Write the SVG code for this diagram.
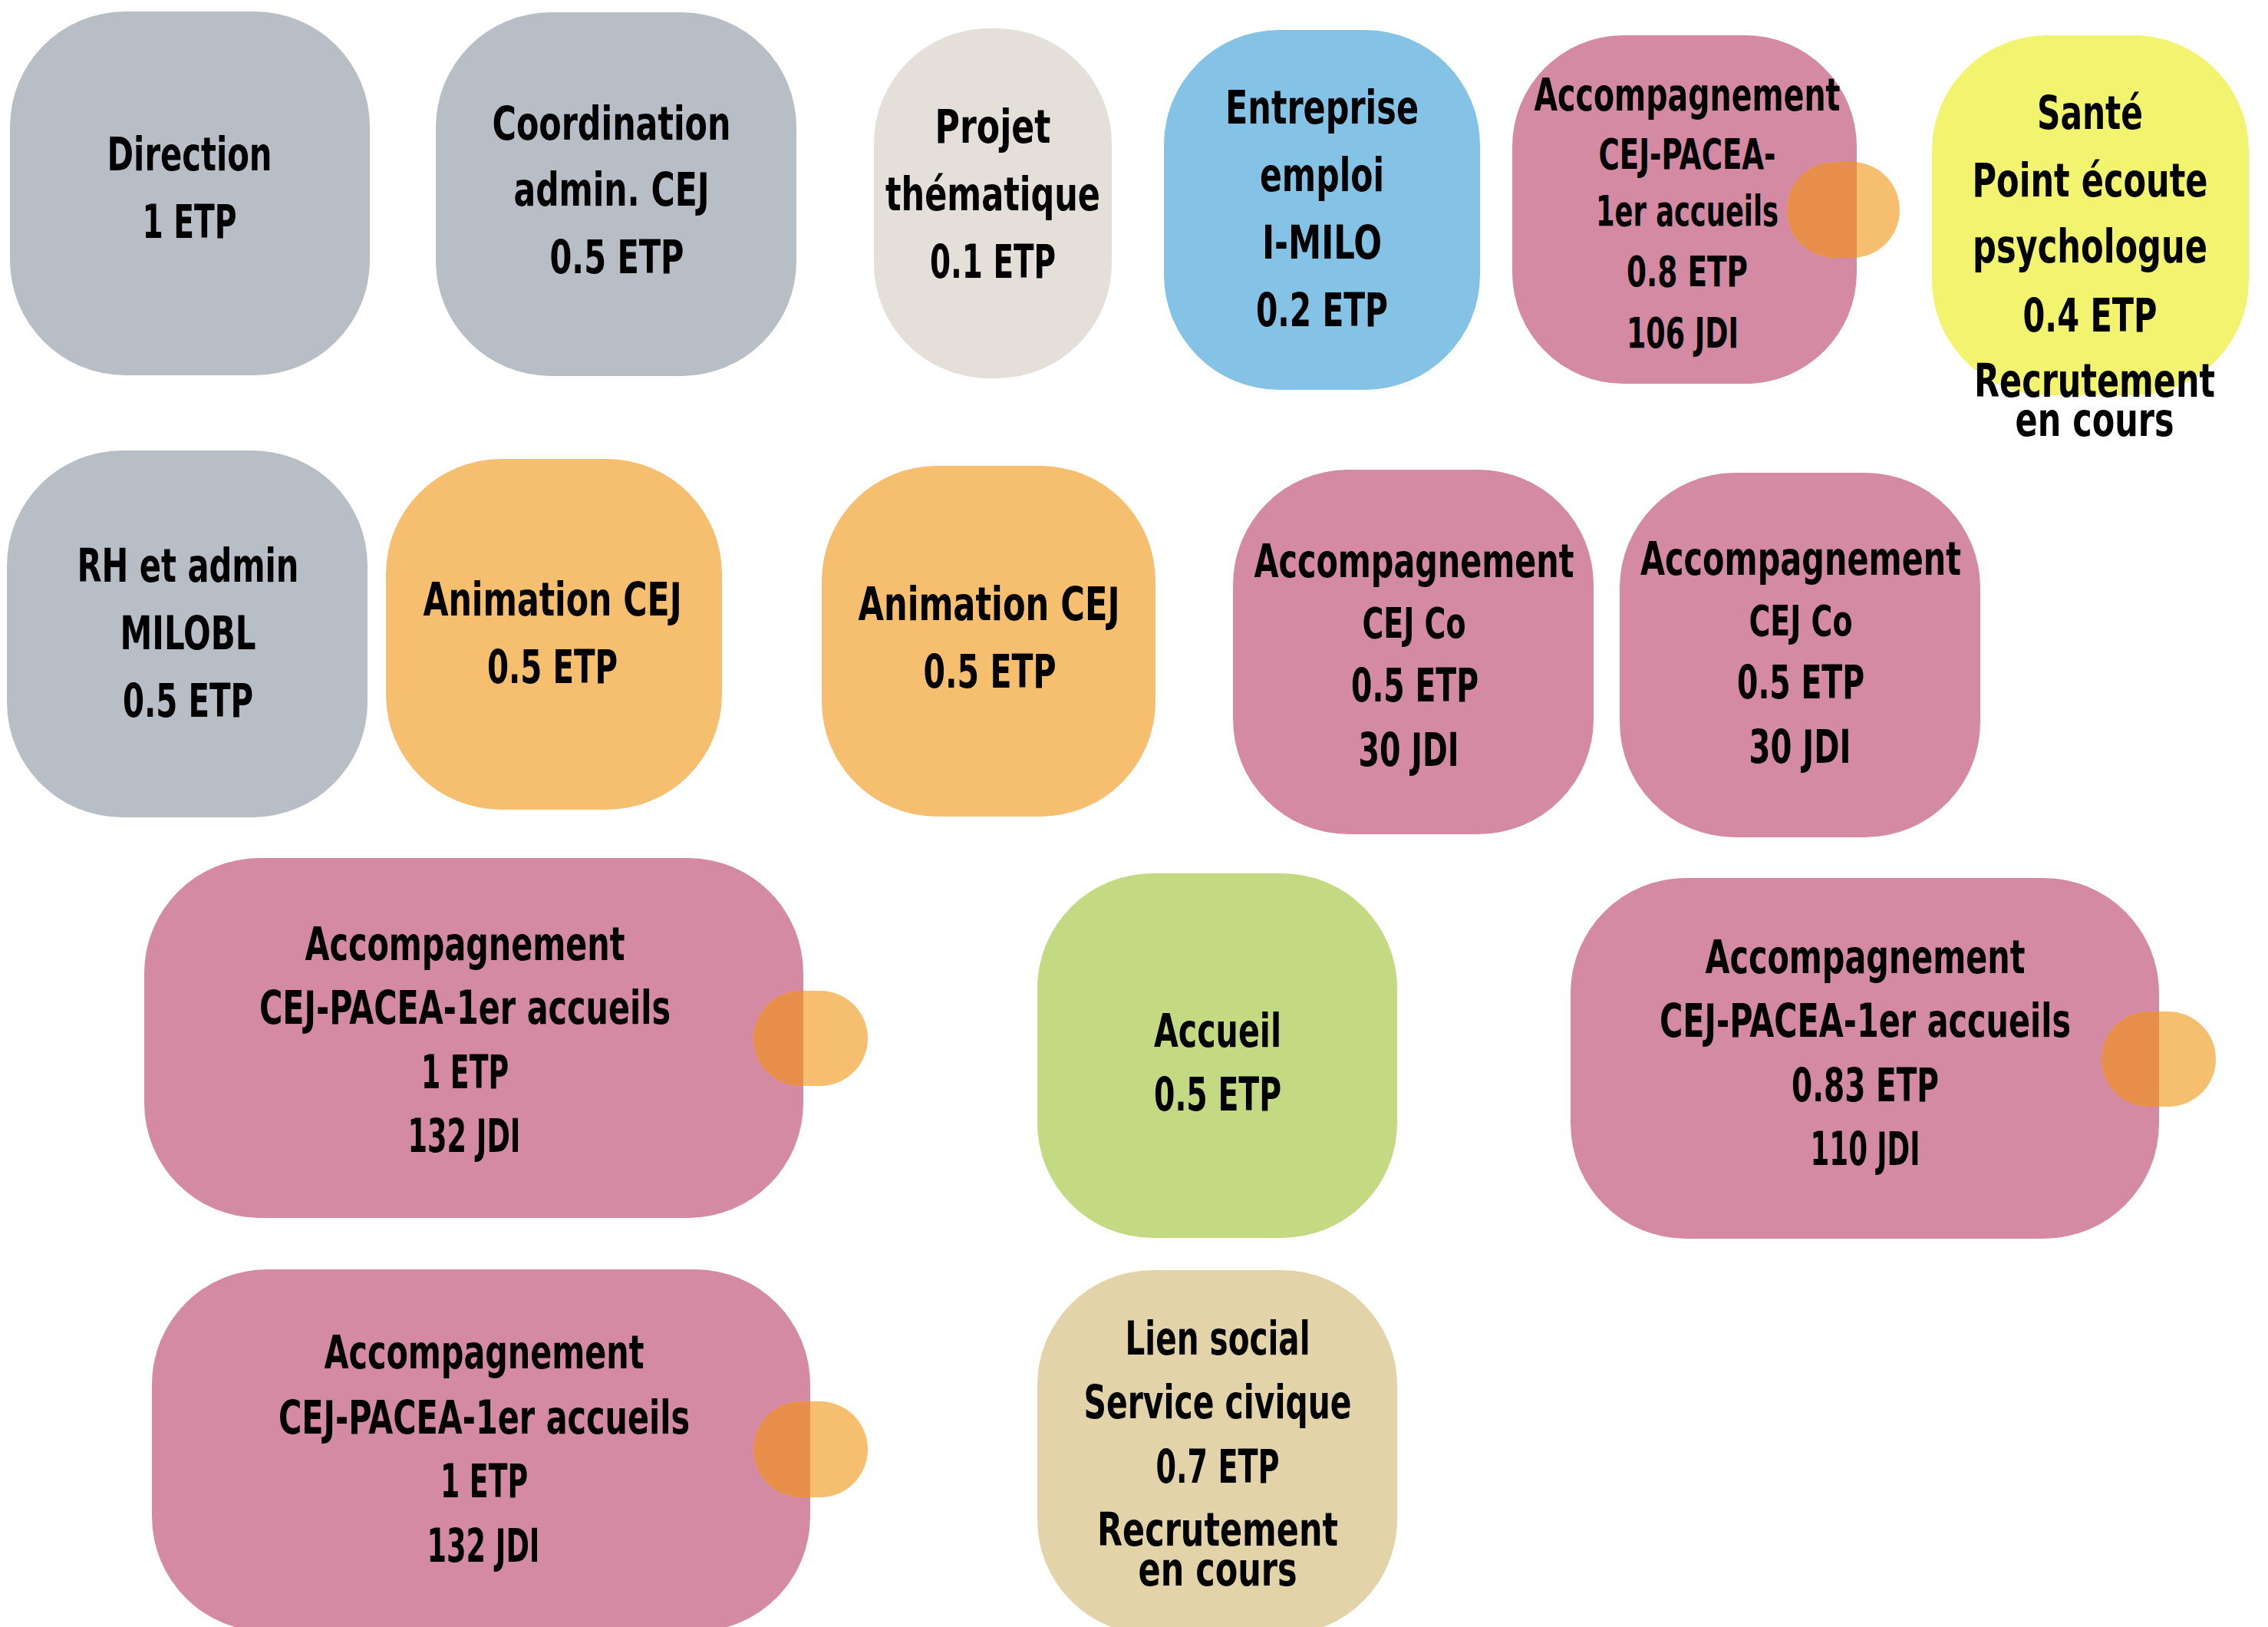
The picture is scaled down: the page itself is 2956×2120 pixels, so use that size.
<svg xmlns="http://www.w3.org/2000/svg" width="2956" height="2120" viewBox="0 0 2956 2120">
  <style>
    .box { stroke: none; }
    .grey { fill: #B7BEC6; }
    .beige { fill: #E4E0D9; }
    .blue { fill: #84C2E6; }
    .pink { fill: #D58AA3; }
    .yellow { fill: #F2F46F; }
    .orange { fill: #F5BF6F; }
    .green { fill: #C3D982; }
    .tan { fill: #E3D3A8; }
    .tab { fill: #F5BF6F; }
    .tab-over { fill: #E68E4A; }
    text {
      font-family: "Liberation Sans Narrow", "DejaVu Sans Condensed", "Liberation Sans", sans-serif;
      font-weight: 700;
      font-size: 60px;
      fill: #000;
      text-anchor: middle;
    }
    .s58 { font-size: 58px; }
    .s55 { font-size: 55px; }
  </style>

  <rect width="2956" height="2120" fill="#FFFFFF"/>

  <!-- Row 1 -->
  <g id="direction">
    <rect class="box grey" x="13" y="15" width="469" height="474" rx="150"/>
    <text x="247" y="222" textLength="215" lengthAdjust="spacingAndGlyphs">Direction</text>
    <text x="247" y="310" textLength="123" lengthAdjust="spacingAndGlyphs">1 ETP</text>
  </g>

  <g id="coordination">
    <rect class="box grey" x="568" y="16" width="470" height="474" rx="150"/>
    <text x="797" y="182" textLength="311" lengthAdjust="spacingAndGlyphs">Coordination</text>
    <text x="797" y="268" textLength="255" lengthAdjust="spacingAndGlyphs">admin. CEJ</text>
    <text x="804" y="356" textLength="175" lengthAdjust="spacingAndGlyphs">0.5 ETP</text>
  </g>

  <g id="projet">
    <rect class="box beige" x="1139" y="37" width="310" height="456" rx="150"/>
    <text x="1294" y="186" textLength="151" lengthAdjust="spacingAndGlyphs">Projet</text>
    <text x="1294" y="274" textLength="280" lengthAdjust="spacingAndGlyphs">thématique</text>
    <text x="1294" y="362" textLength="164" lengthAdjust="spacingAndGlyphs">0.1 ETP</text>
  </g>

  <g id="entreprise">
    <rect class="box blue" x="1517" y="39" width="412" height="469" rx="150"/>
    <text x="1723" y="161" textLength="252" lengthAdjust="spacingAndGlyphs">Entreprise</text>
    <text x="1723" y="249" textLength="162" lengthAdjust="spacingAndGlyphs">emploi</text>
    <text x="1723" y="337" textLength="156" lengthAdjust="spacingAndGlyphs">I-MILO</text>
    <text x="1723" y="425" textLength="172" lengthAdjust="spacingAndGlyphs">0.2 ETP</text>
  </g>

  <g id="accompagnement-106">
    <rect class="box pink" x="1971" y="46" width="449" height="454" rx="145"/>
    <rect class="tab" x="2329" y="211" width="147" height="125" rx="62.5"/>
    <path class="tab-over" d="M2420 211 H2391.5 A62.5 62.5 0 0 0 2391.5 336 H2420 Z"/>
    <text class="s58" x="2199" y="144" textLength="399" lengthAdjust="spacingAndGlyphs">Accompagnement</text>
    <text class="s55" x="2199" y="220" textLength="231" lengthAdjust="spacingAndGlyphs">CEJ-PACEA-</text>
    <text class="s55" x="2199" y="294" textLength="238" lengthAdjust="spacingAndGlyphs">1er accueils</text>
    <text class="s55" x="2199" y="373" textLength="158" lengthAdjust="spacingAndGlyphs">0.8 ETP</text>
    <text class="s55" x="2193" y="453" textLength="146" lengthAdjust="spacingAndGlyphs">106 JDI</text>
  </g>

  <g id="sante">
    <rect class="box yellow" x="2518" y="46" width="413" height="469" rx="150"/>
    <text x="2724" y="168" textLength="138" lengthAdjust="spacingAndGlyphs">Santé</text>
    <text x="2724" y="256" textLength="307" lengthAdjust="spacingAndGlyphs">Point écoute</text>
    <text x="2724" y="342" textLength="306" lengthAdjust="spacingAndGlyphs">psychologue</text>
    <text x="2724" y="432" textLength="175" lengthAdjust="spacingAndGlyphs">0.4 ETP</text>
    <text x="2730" y="517" textLength="314" lengthAdjust="spacingAndGlyphs">Recrutement</text>
    <text x="2730" y="568" textLength="207" lengthAdjust="spacingAndGlyphs">en cours</text>
  </g>

  <!-- Row 2 -->
  <g id="rh-admin">
    <rect class="box grey" x="9" y="587" width="470" height="478" rx="150"/>
    <text x="245" y="758" textLength="289" lengthAdjust="spacingAndGlyphs">RH et admin</text>
    <text x="245" y="846" textLength="177" lengthAdjust="spacingAndGlyphs">MILOBL</text>
    <text x="245" y="934" textLength="170" lengthAdjust="spacingAndGlyphs">0.5 ETP</text>
  </g>

  <g id="animation-1">
    <rect class="box orange" x="503" y="598" width="438" height="457" rx="150"/>
    <text x="720" y="802" textLength="337" lengthAdjust="spacingAndGlyphs">Animation CEJ</text>
    <text x="720" y="890" textLength="170" lengthAdjust="spacingAndGlyphs">0.5 ETP</text>
  </g>

  <g id="animation-2">
    <rect class="box orange" x="1071" y="607" width="435" height="457" rx="150"/>
    <text x="1289" y="808" textLength="341" lengthAdjust="spacingAndGlyphs">Animation CEJ</text>
    <text x="1290" y="896" textLength="173" lengthAdjust="spacingAndGlyphs">0.5 ETP</text>
  </g>

  <g id="cej-co-1">
    <rect class="box pink" x="1607" y="612" width="470" height="475" rx="150"/>
    <text x="1843" y="752" textLength="417" lengthAdjust="spacingAndGlyphs">Accompagnement</text>
    <text class="s55" x="1843" y="831" textLength="135" lengthAdjust="spacingAndGlyphs">CEJ Co</text>
    <text x="1844" y="914" textLength="166" lengthAdjust="spacingAndGlyphs">0.5 ETP</text>
    <text x="1836" y="998" textLength="131" lengthAdjust="spacingAndGlyphs">30 JDI</text>
  </g>

  <g id="cej-co-2">
    <rect class="box pink" x="2111" y="616" width="470" height="475" rx="150"/>
    <text x="2347" y="749" textLength="418" lengthAdjust="spacingAndGlyphs">Accompagnement</text>
    <text class="s55" x="2347" y="828" textLength="135" lengthAdjust="spacingAndGlyphs">CEJ Co</text>
    <text x="2347" y="910" textLength="166" lengthAdjust="spacingAndGlyphs">0.5 ETP</text>
    <text x="2346" y="994" textLength="133" lengthAdjust="spacingAndGlyphs">30 JDI</text>
  </g>

  <!-- Row 3 -->
  <g id="accompagnement-132-a">
    <rect class="box pink" x="188" y="1118" width="859" height="469" rx="150"/>
    <rect class="tab" x="982" y="1291" width="149" height="124" rx="62"/>
    <path class="tab-over" d="M1047 1291 H1044 A62 62 0 0 0 1044 1415 H1047 Z"/>
    <text x="606" y="1251" textLength="417" lengthAdjust="spacingAndGlyphs">Accompagnement</text>
    <text x="606" y="1334" textLength="536" lengthAdjust="spacingAndGlyphs">CEJ-PACEA-1er accueils</text>
    <text x="606" y="1418" textLength="114" lengthAdjust="spacingAndGlyphs">1 ETP</text>
    <text x="605" y="1501" textLength="147" lengthAdjust="spacingAndGlyphs">132 JDI</text>
  </g>

  <g id="accueil">
    <rect class="box green" x="1352" y="1138" width="469" height="475" rx="150"/>
    <text x="1587" y="1364" textLength="166" lengthAdjust="spacingAndGlyphs">Accueil</text>
    <text x="1587" y="1447" textLength="166" lengthAdjust="spacingAndGlyphs">0.5 ETP</text>
  </g>

  <g id="accompagnement-110">
    <rect class="box pink" x="2047" y="1144" width="767" height="470" rx="150"/>
    <rect class="tab" x="2739" y="1318" width="149" height="124" rx="62"/>
    <path class="tab-over" d="M2814 1318 H2801 A62 62 0 0 0 2801 1442 H2814 Z"/>
    <text x="2431" y="1268" textLength="417" lengthAdjust="spacingAndGlyphs">Accompagnement</text>
    <text x="2431" y="1351" textLength="536" lengthAdjust="spacingAndGlyphs">CEJ-PACEA-1er accueils</text>
    <text x="2431" y="1435" textLength="192" lengthAdjust="spacingAndGlyphs">0.83 ETP</text>
    <text x="2431" y="1518" textLength="143" lengthAdjust="spacingAndGlyphs">110 JDI</text>
  </g>

  <!-- Row 4 -->
  <g id="accompagnement-132-b">
    <rect class="box pink" x="198" y="1654" width="858" height="472" rx="150"/>
    <rect class="tab" x="982" y="1826" width="149" height="125" rx="62.5"/>
    <path class="tab-over" d="M1056 1826 H1044.5 A62.5 62.5 0 0 0 1044.5 1951 H1056 Z"/>
    <text x="631" y="1783" textLength="417" lengthAdjust="spacingAndGlyphs">Accompagnement</text>
    <text x="631" y="1868" textLength="536" lengthAdjust="spacingAndGlyphs">CEJ-PACEA-1er accueils</text>
    <text x="631" y="1951" textLength="114" lengthAdjust="spacingAndGlyphs">1 ETP</text>
    <text x="630" y="2035" textLength="147" lengthAdjust="spacingAndGlyphs">132 JDI</text>
  </g>

  <g id="lien-social">
    <rect class="box tan" x="1352" y="1655" width="469" height="475" rx="150"/>
    <text x="1587" y="1765" textLength="241" lengthAdjust="spacingAndGlyphs">Lien social</text>
    <text x="1587" y="1848" textLength="349" lengthAdjust="spacingAndGlyphs">Service civique</text>
    <text x="1587" y="1932" textLength="161" lengthAdjust="spacingAndGlyphs">0.7 ETP</text>
    <text x="1587" y="2014" textLength="314" lengthAdjust="spacingAndGlyphs">Recrutement</text>
    <text x="1587" y="2066" textLength="207" lengthAdjust="spacingAndGlyphs">en cours</text>
  </g>
</svg>
